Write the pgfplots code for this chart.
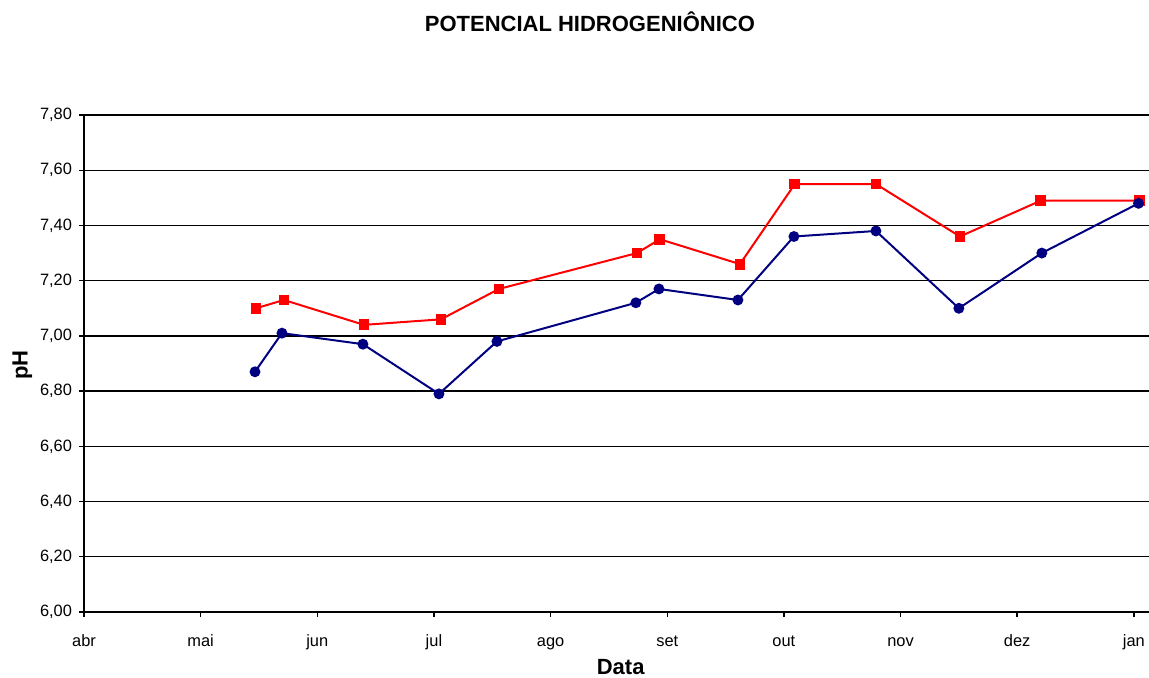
\documentclass[border=0pt]{standalone}
\usepackage{pgfplots}
\pgfplotsset{compat=1.18}
\usepackage{fontspec}
\setmainfont{Liberation Sans}
\definecolor{serieA}{HTML}{FF0000}
\definecolor{serieB}{HTML}{000080}

\begin{document}
\begin{tikzpicture}
\begin{axis}[
    scale only axis,
    width=532.5pt, height=248.5pt,
    xmin=0, xmax=9.13,
    ymin=6, ymax=7.8,
    axis x line*=bottom,
    axis y line*=left,
    axis line style={black, line width=1pt},
    xtick={0,1,2,3,4,5,6,7,8,9},
    xticklabels={abr,mai,jun,jul,ago,set,out,nov,dez,jan},
    ytick={6,6.2,6.4,6.6,6.8,7,7.2,7.4,7.6,7.8},
    ymajorgrids,
    grid style={black, line width=0.7pt},
    tick align=outside,
    major tick length=2.5pt,
    tick style={black, line width=0.7pt},
    tick label style={font=\fontsize{8.2}{9}\selectfont},
    /pgf/number format/assume math mode=true,
    yticklabel style={/pgf/number format/.cd, fixed, fixed zerofill, precision=2, use comma},
    xticklabel style={yshift=-3pt, text height=1.6ex, text depth=0.3ex},
    every axis title shift=0pt,
    title={\textbf{POTENCIAL HIDROGENIÔNICO}},
    title style={font=\fontsize{11}{12}\selectfont, at={(rel axis cs:0.475,1.187)}, anchor=center},
    xlabel={\textbf{Data}},
    xlabel style={font=\fontsize{11}{13}\selectfont, at={(rel axis cs:0.504,-0.11)}, anchor=center},
    ylabel={\textbf{pH}},
    ylabel style={font=\fontsize{11}{13}\selectfont, at={(rel axis cs:-0.058,0.497)}, anchor=center, rotate=0},
    clip=false,
]
\addplot[color=serieA, line width=1pt, mark=square*, mark size=2.2pt, mark options={fill=serieA}]
    coordinates {
    (1.474,7.10)(1.714,7.13)(2.40,7.04)(3.06,7.06)(3.557,7.17)(4.74,7.30)(4.937,7.35)
    (5.623,7.26)(6.094,7.55)(6.789,7.55)(7.509,7.36)(8.203,7.49)(9.05,7.49)
    };
\addplot[color=serieB, line width=1pt, mark=*, mark size=2.2pt, mark options={fill=serieB}]
    coordinates {
    (1.466,6.87)(1.697,7.01)(2.391,6.97)(3.043,6.79)(3.54,6.98)(4.731,7.12)(4.929,7.17)
    (5.606,7.13)(6.086,7.36)(6.789,7.38)(7.50,7.10)(8.211,7.30)(9.04,7.48)
    };
\end{axis}
\pgfresetboundingbox
\useasboundingbox (-42pt,-32.5pt) rectangle (532.5pt,306pt);
\end{tikzpicture}
\end{document}
